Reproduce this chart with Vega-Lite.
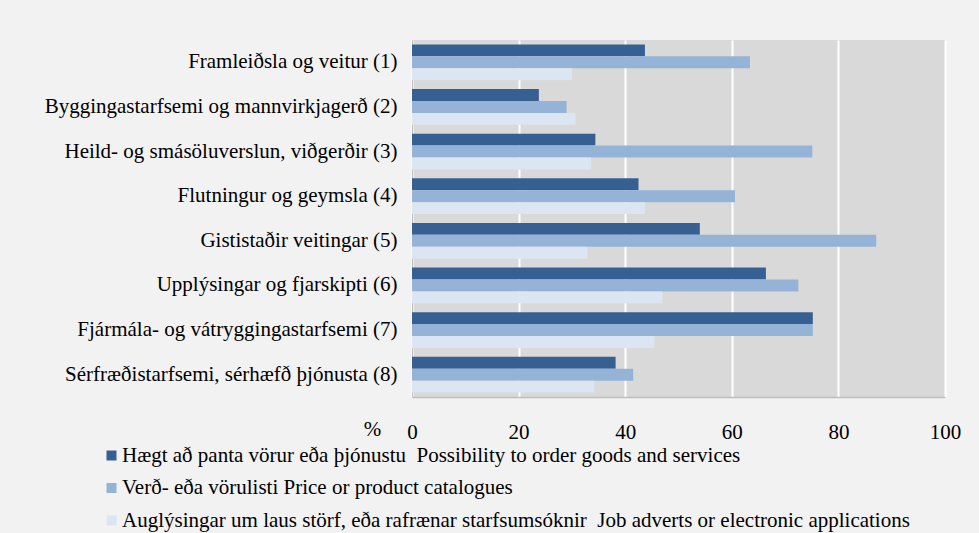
{
  "$schema": "https://vega.github.io/schema/vega-lite/v6.json",
  "width": 533,
  "height": 357,
  "autosize": {"type": "none"},
  "padding": {"left": 412, "top": 40, "right": 34, "bottom": 136},
  "background": "#F2F2F2",
  "config": {
    "font": "Liberation Serif, Times New Roman, serif",
    "view": {"fill": "#D9D9D9", "stroke": null}
  },
  "datasets": {
    "d": [
      {"cat": "Framleiðsla og veitur (1)", "s": "a", "value": 43.7},
      {"cat": "Framleiðsla og veitur (1)", "s": "b", "value": 63.4},
      {"cat": "Framleiðsla og veitur (1)", "s": "c", "value": 30.0},
      {"cat": "Byggingastarfsemi og mannvirkjagerð (2)", "s": "a", "value": 23.8},
      {"cat": "Byggingastarfsemi og mannvirkjagerð (2)", "s": "b", "value": 29.0},
      {"cat": "Byggingastarfsemi og mannvirkjagerð (2)", "s": "c", "value": 30.7},
      {"cat": "Heild- og smásöluverslun, viðgerðir (3)", "s": "a", "value": 34.4},
      {"cat": "Heild- og smásöluverslun, viðgerðir (3)", "s": "b", "value": 75.1},
      {"cat": "Heild- og smásöluverslun, viðgerðir (3)", "s": "c", "value": 33.6},
      {"cat": "Flutningur og geymsla (4)", "s": "a", "value": 42.5},
      {"cat": "Flutningur og geymsla (4)", "s": "b", "value": 60.6},
      {"cat": "Flutningur og geymsla (4)", "s": "c", "value": 43.7},
      {"cat": "Gististaðir veitingar (5)", "s": "a", "value": 54.0},
      {"cat": "Gististaðir veitingar (5)", "s": "b", "value": 87.1},
      {"cat": "Gististaðir veitingar (5)", "s": "c", "value": 32.9},
      {"cat": "Upplýsingar og fjarskipti (6)", "s": "a", "value": 66.4},
      {"cat": "Upplýsingar og fjarskipti (6)", "s": "b", "value": 72.5},
      {"cat": "Upplýsingar og fjarskipti (6)", "s": "c", "value": 47.0},
      {"cat": "Fjármála- og vátryggingastarfsemi (7)", "s": "a", "value": 75.2},
      {"cat": "Fjármála- og vátryggingastarfsemi (7)", "s": "b", "value": 75.2},
      {"cat": "Fjármála- og vátryggingastarfsemi (7)", "s": "c", "value": 45.5},
      {"cat": "Sérfræðistarfsemi, sérhæfð þjónusta (8)", "s": "a", "value": 38.2},
      {"cat": "Sérfræðistarfsemi, sérhæfð þjónusta (8)", "s": "b", "value": 41.5},
      {"cat": "Sérfræðistarfsemi, sérhæfð þjónusta (8)", "s": "c", "value": 34.2}
    ]
  },
  "data": {"name": "d"},
  "mark": {"type": "bar", "strokeWidth": 0},
  "encoding": {
    "y": {
      "field": "cat",
      "type": "nominal",
      "sort": null,
      "scale": {"paddingInner": 0.2, "paddingOuter": 0.1},
      "axis": {
        "title": null,
        "labelFont": "Liberation Serif, Times New Roman, serif",
        "labelFontSize": 21,
        "labelColor": "#000000",
        "labelPadding": 15,
        "labelLimit": 400,
        "ticks": false,
        "domainColor": "#BFBFBF",
        "domainWidth": 1
      }
    },
    "yOffset": {"field": "s", "type": "nominal", "sort": ["a", "b", "c"]},
    "x": {
      "field": "value",
      "type": "quantitative",
      "scale": {"domain": [0, 100], "nice": false},
      "axis": {
        "values": [0, 20, 40, 60, 80, 100],
        "grid": true,
        "gridColor": "#FFFFFF",
        "gridWidth": 2,
        "ticks": false,
        "domainColor": "#BFBFBF",
        "domainWidth": 1.5,
        "labelFont": "Liberation Serif, Times New Roman, serif",
        "labelFontSize": 21,
        "labelColor": "#000000",
        "labelPadding": 24,
        "labelFlush": false,
        "title": "%",
        "titleFont": "Liberation Serif, Times New Roman, serif",
        "titleFontSize": 21,
        "titleFontWeight": "normal",
        "titleColor": "#000000",
        "titleX": -40,
        "titleY": 32,
        "titleAlign": "center",
        "titleBaseline": "middle"
      }
    },
    "color": {
      "field": "s",
      "type": "nominal",
      "scale": {
        "domain": ["a", "b", "c"],
        "range": ["#366092", "#95B3D7", "#DCE6F2"]
      },
      "legend": {
        "orient": "none",
        "legendX": -311,
        "legendY": 405,
        "title": null,
        "padding": 0,
        "symbolType": "square",
        "symbolSize": 100,
        "symbolStrokeWidth": 0,
        "labelFont": "Liberation Serif, Times New Roman, serif",
        "labelFontSize": 21,
        "labelColor": "#000000",
        "labelOffset": 0,
        "labelLimit": 900,
        "rowPadding": 10.5,
        "labelExpr": "datum.value == 'a' ? 'Hægt að panta vörur eða þjónustu\u00a0\u00a0Possibility to order goods and services' : datum.value == 'b' ? 'Verð- eða vörulisti Price or product catalogues' : 'Auglýsingar um laus störf, eða rafrænar starfsumsóknir\u00a0\u00a0Job adverts or electronic applications'"
      }
    }
  }
}
